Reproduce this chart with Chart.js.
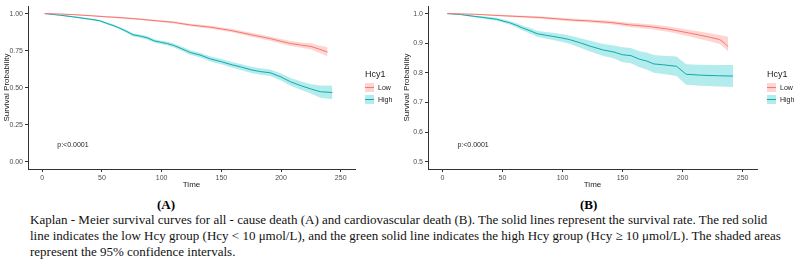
<!DOCTYPE html>
<html>
<head>
<meta charset="utf-8">
<script src="https://cdn.jsdelivr.net/npm/chart.js@4"></script>
<style>
  body { margin: 0; background: #fff; width: 799px; height: 267px; overflow: hidden; position: relative; }
  canvas { position: absolute; top: 0; }
  .legend { position: absolute; font-family: "Liberation Sans", Arial, sans-serif; color: #222; }
  .legend .ttl { font-size: 9px; margin-bottom: 2px; }
  .legend .row { display: flex; align-items: center; font-size: 7px; height: 12px; }
  .legend .key { position: relative; width: 9px; height: 9px; margin-right: 4px; }
  .legend .key i { position: absolute; left: 0; right: 0; top: 4px; height: 1px; }
  .panel-tag { position: absolute; top: 197px; font-family: "Liberation Serif", "Times New Roman", serif; font-weight: bold; font-size: 13px; }
  #caption { position: absolute; left: 30px; top: 212px; font-family: "Liberation Serif", "Times New Roman", serif; font-size: 13px; line-height: 16px; color: #111; white-space: nowrap; }
</style>
</head>
<body>
<canvas id="chartA" width="400" height="195" style="left:0"></canvas>
<canvas id="chartB" width="399" height="195" style="left:400px"></canvas>

<div class="legend" style="left:365px;top:69px">
  <div class="ttl">Hcy1</div>
  <div class="row"><span class="key" style="background:rgba(248,118,109,0.3)"><i style="background:#F8766D"></i></span>Low</div>
  <div class="row"><span class="key" style="background:rgba(0,191,196,0.3)"><i style="background:#14a7ab"></i></span>High</div>
</div>
<div class="legend" style="left:767px;top:69px">
  <div class="ttl">Hcy1</div>
  <div class="row"><span class="key" style="background:rgba(248,118,109,0.3)"><i style="background:#F8766D"></i></span>Low</div>
  <div class="row"><span class="key" style="background:rgba(0,191,196,0.3)"><i style="background:#14a7ab"></i></span>High</div>
</div>

<div class="panel-tag" style="left:157px">(A)</div>
<div class="panel-tag" style="left:580px">(B)</div>

<div id="caption">Kaplan - Meier survival curves for all - cause death (A) and cardiovascular death (B). The solid lines represent the survival rate. The red solid<br>line indicates the low Hcy group (Hcy &lt; 10 μmol/L), and the green solid line indicates the high Hcy group (Hcy ≥ 10 μmol/L). The shaded areas<br>represent the 95% confidence intervals.</div>

<script>
// ---- Panel A: all-cause death ----
const timesLowA = [2, 15, 26, 40, 54, 65, 82, 95, 110, 124, 141, 158, 175, 191, 200, 208, 217, 225, 232, 239];
const lowA      = [1.0, 0.997, 0.993, 0.986, 0.978, 0.973, 0.962, 0.952, 0.941, 0.923, 0.908, 0.886, 0.857, 0.831, 0.813, 0.798, 0.787, 0.778, 0.760, 0.740];
const lowAUpper = [1.0, 0.999, 0.996, 0.990, 0.983, 0.979, 0.968, 0.959, 0.949, 0.932, 0.918, 0.897, 0.870, 0.846, 0.829, 0.815, 0.805, 0.799, 0.784, 0.775];
const lowALower = [1.0, 0.995, 0.990, 0.982, 0.973, 0.967, 0.956, 0.945, 0.933, 0.914, 0.898, 0.875, 0.844, 0.816, 0.797, 0.781, 0.769, 0.757, 0.736, 0.712];

const timesHighA = [2, 15, 26, 40, 48, 54, 60, 65, 71, 76, 82, 88, 94, 99, 105, 110, 117, 124, 133, 141, 150, 158, 167, 175, 183, 191, 200, 208, 217, 225, 233, 243];
const highA      = [1.0, 0.989, 0.978, 0.962, 0.952, 0.934, 0.918, 0.901, 0.878, 0.857, 0.848, 0.836, 0.815, 0.807, 0.797, 0.785, 0.762, 0.737, 0.718, 0.693, 0.675, 0.656, 0.638, 0.620, 0.608, 0.600, 0.572, 0.539, 0.512, 0.491, 0.472, 0.467];
const highAUpper = [1.0, 0.992, 0.983, 0.968, 0.959, 0.942, 0.927, 0.910, 0.888, 0.868, 0.859, 0.848, 0.827, 0.819, 0.810, 0.798, 0.776, 0.752, 0.734, 0.710, 0.693, 0.675, 0.658, 0.641, 0.630, 0.622, 0.596, 0.565, 0.541, 0.522, 0.514, 0.512];
const highALower = [1.0, 0.986, 0.973, 0.956, 0.945, 0.926, 0.909, 0.892, 0.868, 0.846, 0.837, 0.824, 0.803, 0.795, 0.784, 0.772, 0.748, 0.722, 0.702, 0.676, 0.657, 0.637, 0.618, 0.599, 0.586, 0.578, 0.548, 0.513, 0.483, 0.460, 0.431, 0.422];

// ---- Panel B: cardiovascular death ----
const timesLowB = [4, 26, 54, 81, 109, 123, 140, 156, 173, 189, 206, 223, 231, 235, 238];
const lowB      = [1.0, 0.998, 0.992, 0.987, 0.978, 0.975, 0.970, 0.962, 0.956, 0.947, 0.934, 0.920, 0.912, 0.900, 0.888];
const lowBUpper = [1.0, 0.999, 0.995, 0.991, 0.983, 0.980, 0.976, 0.969, 0.964, 0.956, 0.945, 0.934, 0.928, 0.924, 0.922];
const lowBLower = [1.0, 0.997, 0.989, 0.983, 0.973, 0.970, 0.964, 0.955, 0.948, 0.938, 0.923, 0.906, 0.897, 0.884, 0.872];

const timesHighB = [4, 15, 26, 34, 45, 56, 62, 67, 73, 79, 86, 92, 99, 106, 115, 123, 134, 143, 150, 157, 164, 170, 176, 184, 195, 203, 215, 230, 242];
const highB      = [1.0, 0.997, 0.991, 0.987, 0.981, 0.969, 0.960, 0.951, 0.942, 0.932, 0.927, 0.923, 0.918, 0.912, 0.901, 0.890, 0.877, 0.870, 0.861, 0.858, 0.846, 0.840, 0.830, 0.827, 0.822, 0.795, 0.792, 0.790, 0.789];
const highBUpper = [1.0, 0.999, 0.994, 0.991, 0.986, 0.975, 0.967, 0.959, 0.951, 0.942, 0.938, 0.935, 0.931, 0.926, 0.917, 0.908, 0.897, 0.892, 0.886, 0.884, 0.873, 0.869, 0.860, 0.858, 0.855, 0.829, 0.827, 0.826, 0.826];
const highBLower = [1.0, 0.995, 0.988, 0.983, 0.976, 0.963, 0.953, 0.943, 0.933, 0.922, 0.916, 0.911, 0.905, 0.898, 0.885, 0.872, 0.857, 0.848, 0.836, 0.832, 0.819, 0.811, 0.800, 0.796, 0.789, 0.760, 0.756, 0.754, 0.752];

const xTicks = [0, 50, 100, 150, 200, 250];
const yTicksA = [0, 0.25, 0.5, 0.75, 1.0];
const yTicksB = [0.5, 0.6, 0.7, 0.8, 0.9, 1.0];

const redLine = '#F8766D';
const redFill = 'rgba(248,118,109,0.3)';
const tealLine = '#14a7ab';
const tealFill = 'rgba(0,191,196,0.3)';

const pts = (xs, ys) => xs.map((x, i) => ({ x: x, y: ys[i] }));

function bandSets(xs, ys, up, lo, line, fill) {
  return [
    { data: pts(xs, ys), borderColor: line, borderWidth: 1, fill: false, pointRadius: 0 },
    { data: pts(xs, up), borderWidth: 0, borderColor: 'transparent', backgroundColor: fill, fill: '+1', pointRadius: 0 },
    { data: pts(xs, lo), borderWidth: 0, borderColor: 'transparent', fill: false, pointRadius: 0 }
  ];
}

const pTextPlugin = {
  id: 'pText',
  afterDatasetsDraw(chart, args, opts) {
    const ctx = chart.ctx;
    ctx.save();
    ctx.font = '7px "Liberation Sans", Arial, sans-serif';
    ctx.fillStyle = '#222';
    ctx.textBaseline = 'middle';
    ctx.fillText('p:<0.0001', chart.scales.x.getPixelForValue(opts.x), chart.scales.y.getPixelForValue(opts.y));
    ctx.restore();
  }
};

function makeChart(id, datasets, yMin, yMax, yTicks, yDigits, padRight, pPos) {
  return new Chart(document.getElementById(id).getContext('2d'), {
    type: 'line',
    data: { datasets: datasets },
    plugins: [pTextPlugin],
    options: {
      responsive: false,
      animation: false,
      layout: { padding: { top: 2, right: padRight, left: 0, bottom: 0 } },
      plugins: { legend: { display: false }, tooltip: { enabled: false }, pText: pPos },
      scales: {
        x: {
          type: 'linear',
          min: -12, max: 262,
          afterFit: s => { s.height = 26; },
          afterBuildTicks: s => { s.ticks = xTicks.map(v => ({ value: v })); },
          ticks: { color: '#4d4d4d', font: { size: 7, family: '"Liberation Sans", Arial' }, padding: 2, maxRotation: 0 },
          grid: { drawOnChartArea: false, drawTicks: true, tickLength: 3, color: '#333' },
          border: { display: true, color: '#333', width: 1 },
          title: { display: true, text: 'Time', color: '#222', font: { size: 8, family: '"Liberation Sans", Arial' }, padding: { top: 0, bottom: 5 } }
        },
        y: {
          min: yMin, max: yMax,
          afterFit: s => { s.width = 28; },
          afterBuildTicks: s => { s.ticks = yTicks.map(v => ({ value: v })); },
          ticks: { color: '#4d4d4d', font: { size: 7, family: '"Liberation Sans", Arial' }, padding: 2, callback: v => v.toFixed(yDigits) },
          grid: { drawOnChartArea: false, drawTicks: true, tickLength: 3, color: '#333' },
          border: { display: true, color: '#333', width: 1 },
          title: { display: true, text: 'Survival Probability', color: '#222', font: { size: 8, family: '"Liberation Sans", Arial' }, padding: { top: 2, bottom: 0 } }
        }
      }
    }
  });
}

makeChart('chartA',
  [...bandSets(timesLowA, lowA, lowAUpper, lowALower, redLine, redFill),
   ...bandSets(timesHighA, highA, highAUpper, highALower, tealLine, tealFill)],
  -0.05, 1.05, yTicksA, 2, 45, { x: 12.5, y: 0.115 });

makeChart('chartB',
  [...bandSets(timesLowB, lowB, lowBUpper, lowBLower, redLine, redFill),
   ...bandSets(timesHighB, highB, highBUpper, highBLower, tealLine, tealFill)],
  0.475, 1.025, yTicksB, 1, 42, { x: 12.5, y: 0.556 });
</script>
</body>
</html>
